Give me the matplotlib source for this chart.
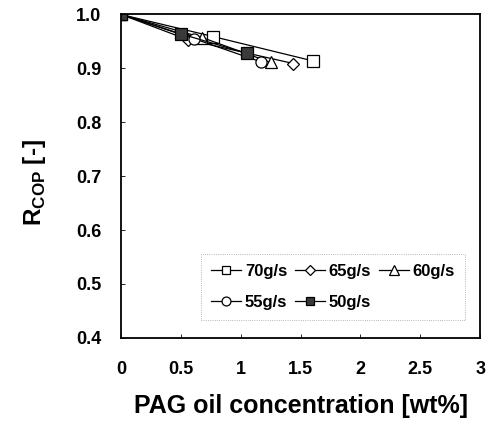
import matplotlib
matplotlib.use("Agg")
import matplotlib.pyplot as plt

plt.rcParams['font.family'] = ['Liberation Sans', 'DejaVu Sans']
plt.rcParams['font.weight'] = 'bold'
plt.rcParams['mathtext.fontset'] = 'custom'
plt.rcParams['mathtext.rm'] = 'Liberation Sans:bold'
plt.rcParams['mathtext.bf'] = 'Liberation Sans:bold'

# PAG oil concentration [wt%] vs R_COP for each mass flow rate
x_70 = [0.0, 0.77, 1.60]
y_70 = [1.0, 0.959, 0.914]
x_65 = [0.0, 0.56, 1.44]
y_65 = [1.0, 0.953, 0.909]
x_60 = [0.0, 0.68, 1.25]
y_60 = [1.0, 0.957, 0.911]
x_55 = [0.0, 0.61, 1.17]
y_55 = [1.0, 0.955, 0.912]
x_50 = [0.0, 0.50, 1.05]
y_50 = [1.0, 0.964, 0.928]

labels = ['70g/s', '65g/s', '60g/s', '55g/s', '50g/s']

fig = plt.figure(figsize=(4.92, 4.26), dpi=100)
ax = fig.add_axes([0.246, 0.207, 0.730, 0.759])

kw = dict(color='black', lw=0.9, mec='black', mew=0.9)
h70, = ax.plot(x_70, y_70, marker='s', ms=8, mfc='white', label=labels[0], **kw)
h65, = ax.plot(x_65, y_65, marker='D', ms=6, mfc='white', label=labels[1], **kw)
h60, = ax.plot(x_60, y_60, marker='^', ms=9, mfc='white', label=labels[2], **kw)
h55, = ax.plot(x_55, y_55, marker='o', ms=8, mfc='white', label=labels[3], **kw)
h50, = ax.plot(x_50, y_50, marker='s', ms=8, mfc='#3a3a3a', label=labels[4], **kw)

ax.set_xlim(0, 3)
ax.set_ylim(0.4, 1.0)
ax.set_xticks([0, 0.5, 1, 1.5, 2, 2.5, 3])
ax.set_xticklabels(['0', '0.5', '1', '1.5', '2', '2.5', '3'])
ax.set_yticks([0.4, 0.5, 0.6, 0.7, 0.8, 0.9, 1.0])
ax.set_yticklabels(['0.4', '0.5', '0.6', '0.7', '0.8', '0.9', '1.0'])
ax.tick_params(axis='both', direction='in', length=3, width=0.6, labelsize=13)
ax.tick_params(axis='x', pad=17)
ax.tick_params(axis='y', pad=14)
for s in ax.spines.values():
    s.set_linewidth(1.3)

ax.set_xlabel('PAG oil concentration [wt%]', fontsize=18, fontweight='bold', labelpad=11)
ax.set_ylabel(r'R$_{\mathregular{COP}}$ [-]', fontsize=17.5, fontweight='bold')
ax.yaxis.set_label_coords(-0.204, 0.48)

leg = ax.legend([h70, h55, h65, h50, h60],
                [labels[0], labels[3], labels[1], labels[4], labels[2]],
                ncol=3, loc='lower right', bbox_to_anchor=(0.958, 0.056),
                borderaxespad=0,
                fontsize=12, handlelength=1.8, handletextpad=0.25,
                columnspacing=0.45, markerscale=0.8, fancybox=False,
                borderpad=0.6, labelspacing=0.95)
leg.get_frame().set_edgecolor('#888888')
leg.get_frame().set_linewidth(0.6)
leg.get_frame().set_linestyle(':')

fig.savefig('out.png', dpi=100)
